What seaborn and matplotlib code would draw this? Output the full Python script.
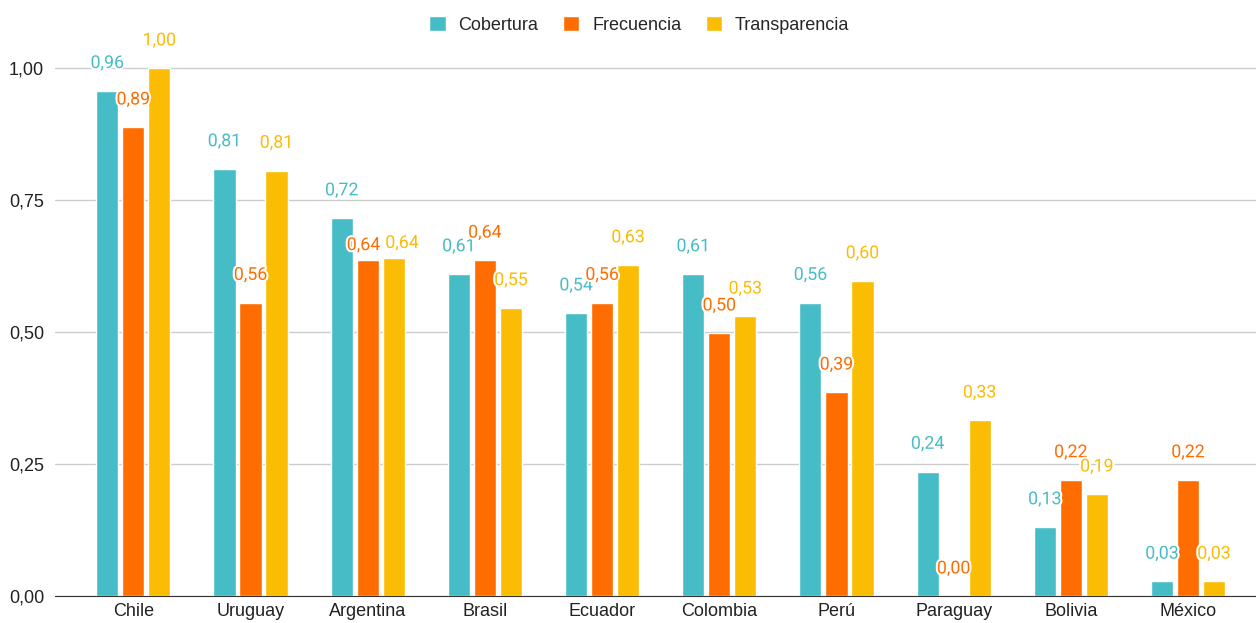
import matplotlib
matplotlib.use("Agg")
import matplotlib.pyplot as plt
import matplotlib.patheffects as pe
import seaborn as sns
import pandas as pd
from matplotlib.ticker import FuncFormatter

paises = ["Chile", "Uruguay", "Argentina", "Brasil", "Ecuador",
          "Colombia", "Perú", "Paraguay", "Bolivia", "México"]
cobertura = [0.957, 0.809, 0.716, 0.610, 0.536, 0.610, 0.556, 0.236, 0.131, 0.028]
frecuencia = [0.888, 0.556, 0.636, 0.636, 0.556, 0.498, 0.386, 0.000, 0.220, 0.220]
transparencia = [1.000, 0.806, 0.640, 0.546, 0.627, 0.530, 0.597, 0.333, 0.193, 0.028]
series = ["Cobertura", "Frecuencia", "Transparencia"]
colores = ["#46BDC6", "#FF6D01", "#FBBC04"]

# desplazamientos (puntos) para etiquetas que chocan: (serie, pais) -> (dx, dy)
ajustes = {(1, 2): (-3, -9), (2, 2): (6, -9)}


def main():
    sns.set_style("white")
    plt.rcParams["font.family"] = ["Liberation Sans", "DejaVu Sans"]
    plt.rcParams["font.size"] = 13

    df = pd.DataFrame({"pais": paises * 3,
                       "serie": [s for s in series for _ in paises],
                       "valor": cobertura + frecuencia + transparencia})

    fig = plt.figure(figsize=(12.56, 6.23), dpi=100)
    ax = fig.add_axes([0.044, 0.043, 0.956, 0.890])
    sns.barplot(data=df, x="pais", y="valor", hue="serie", order=paises,
                hue_order=series, palette=colores, width=0.666, gap=0.15,
                saturation=1, errorbar=None, ax=ax)

    # etiquetas de datos con halo blanco
    for si, (cont, col) in enumerate(zip(ax.containers, colores)):
        for pi, bar in enumerate(cont):
            h = bar.get_height()
            dx, dy = ajustes.get((si, pi), (0, 0))
            ax.annotate(f"{h:.2f}".replace(".", ","),
                        (bar.get_x() + bar.get_width() / 2, h),
                        xytext=(dx, 20 + dy), textcoords="offset points",
                        ha="center", va="center", color=col, fontsize=12.8,
                        family="Roboto", clip_on=False,
                        path_effects=[pe.withStroke(linewidth=3, foreground="white")])

    ax.set_ylim(0, 1.05)
    ax.set_xlim(-0.666, 9.58)
    ax.set_yticks([0, 0.25, 0.5, 0.75, 1.0])
    ax.yaxis.set_major_formatter(FuncFormatter(lambda v, p: f"{v:.2f}".replace(".", ",")))
    ax.grid(axis="y", color="#cccccc", linewidth=1)
    ax.set_axisbelow(True)
    for s in ["top", "right", "left"]:
        ax.spines[s].set_visible(False)
    ax.spines["bottom"].set_color("#333333")
    ax.spines["bottom"].set_zorder(5)
    ax.tick_params(axis="both", length=0, labelsize=13, colors="#222222")
    ax.tick_params(axis="y", pad=8)
    ax.tick_params(axis="x", pad=5)
    ax.set_xlabel("")
    ax.set_ylabel("")

    handles, labels = ax.get_legend_handles_labels()
    ax.legend_.remove()
    fig.legend(handles, labels, loc="upper center", bbox_to_anchor=(0.509, 1.0),
               ncol=3, frameon=False, fontsize=13, handlelength=0.9,
               handleheight=0.9, columnspacing=1.35, handletextpad=0.72)

    fig.savefig("out.png", dpi=100)
    plt.close(fig)


if __name__ == "__main__":
    main()
